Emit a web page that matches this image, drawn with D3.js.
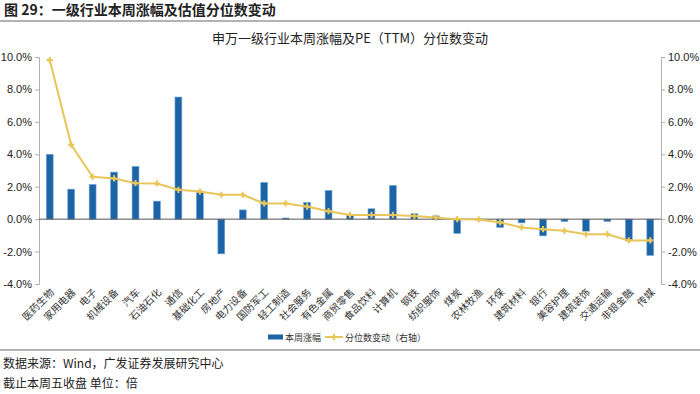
<!DOCTYPE html>
<html>
<head>
<meta charset="utf-8">
<script src="https://cdn.jsdelivr.net/npm/d3@7"></script>
<style>
  body { margin: 0; background: #fff; }
  text { font-family: "Liberation Sans", Arial, "Noto Sans CJK SC", sans-serif; }
  .cn { font-family: "Noto Sans CJK SC", sans-serif; }
</style>
</head>
<body>
<div class="canvas"></div>
<script>
const industries = ['医药生物','家用电器','电子','机械设备','汽车','石油石化','通信','基础化工','房地产','电力设备',
  '国防军工','轻工制造','社会服务','有色金属','商贸零售','食品饮料','计算机','钢铁','纺织服饰','煤炭',
  '农林牧渔','环保','建筑材料','银行','美容护理','建筑装饰','交通运输','非银金融','传媒'];
// 本周涨幅 (%)
const weekChange = [4.0, 1.85, 2.14, 2.9, 3.25, 1.11, 7.53, 1.73, -2.14, 0.57,
  2.26, 0.07, 1.03, 1.77, 0.24, 0.64, 2.08, 0.33, 0.2, -0.88,
  -0.05, -0.51, -0.23, -1.03, -0.14, -0.74, -0.14, -1.34, -2.24];
// 分位数变动 (%, 右轴)
const pctChange = [9.81, 4.59, 2.61, 2.51, 2.22, 2.2, 1.81, 1.7, 1.5, 1.5,
  0.97, 0.97, 0.78, 0.49, 0.26, 0.26, 0.26, 0.19, 0.1, 0.0,
  -0.02, -0.2, -0.51, -0.62, -0.72, -0.93, -0.93, -1.31, -1.31];
const tickVals = [-4, -2, 0, 2, 4, 6, 8, 10];

const W = 700, H = 394;
const plot = {left: 39, right: 661, top: 57, bottom: 284};

const svg = d3.select('.canvas')
  .append('svg')
  .attr('width', W)
  .attr('height', H);

// header
svg.append('text')
  .attr('class', 'cn')
  .attr('x', 4).attr('y', 15)
  .attr('font-size', 14).attr('font-weight', 'bold')
  .attr('fill', '#222')
  .text('图 29：一级行业本周涨幅及估值分位数变动');
svg.append('line')
  .attr('x1', 0).attr('x2', W).attr('y1', 21).attr('y2', 21)
  .attr('stroke', '#9a9a9a').attr('stroke-width', 1.5);

svg.append('text')
  .attr('class', 'cn')
  .attr('x', 350).attr('y', 43)
  .attr('text-anchor', 'middle')
  .attr('font-size', 13)
  .attr('fill', '#222')
  .text('申万一级行业本周涨幅及PE（TTM）分位数变动');

const x = d3.scaleBand()
  .domain(industries)
  .range([plot.left, plot.right])
  .paddingInner(0.68).paddingOuter(0.34);

const y = d3.scaleLinear().domain([-4, 10]).range([plot.bottom, plot.top]);
const y2 = d3.scaleLinear().domain([-4, 10]).range([plot.bottom, plot.top]);

const fmt = d => d.toFixed(1) + '%';

const yAxisL = svg.append('g')
  .attr('transform', `translate(${plot.left},0)`)
  .call(d3.axisLeft(y).tickValues(tickVals).tickFormat(fmt).tickSizeOuter(0).tickSize(4));
const yAxisR = svg.append('g')
  .attr('transform', `translate(${plot.right},0)`)
  .call(d3.axisRight(y2).tickValues(tickVals).tickFormat(fmt).tickSizeOuter(0).tickSize(4));

[yAxisL, yAxisR].forEach(g => {
  g.select('.domain').attr('stroke', '#b0b0b0');
  g.selectAll('.tick line').attr('stroke', '#b0b0b0');
  g.selectAll('.tick text').attr('font-size', 11).attr('fill', '#222')
    .attr('font-family', '"Liberation Sans", Arial, sans-serif');
});

// bars
svg.append('g').selectAll('rect')
  .data(weekChange)
  .enter()
  .append('rect')
    .attr('x', (d, i) => x(industries[i]))
    .attr('width', x.bandwidth())
    .attr('y', d => y(Math.max(0, d)))
    .attr('height', d => Math.abs(y(d) - y(0)))
    .attr('fill', '#1d64a6')
    .attr('stroke', '#6fa4d6')
    .attr('stroke-width', 0.6);

// zero line
svg.append('line')
  .attr('x1', plot.left).attr('x2', plot.right)
  .attr('y1', y(0)).attr('y2', y(0))
  .attr('stroke', '#555').attr('stroke-width', 1);

// line series
const cx = i => x(industries[i]) + x.bandwidth() / 2;
const line = d3.line()
  .x((d, i) => cx(i))
  .y(d => y2(d));

svg.append('path')
  .datum(pctChange)
  .attr('d', line)
  .attr('fill', 'none')
  .attr('stroke', '#e8c65a')
  .attr('stroke-width', 2);

const marker = d3.symbol().type(d3.symbolCross).size(22);
svg.append('g').selectAll('path')
  .data(pctChange)
  .enter()
  .append('path')
    .attr('d', marker)
    .attr('transform', (d, i) => `translate(${cx(i)},${y2(d)})`)
    .attr('fill', '#e8c65a');

// x labels
svg.append('g').selectAll('text')
  .data(industries)
  .enter()
  .append('text')
    .attr('class', 'cn')
    .attr('text-anchor', 'end')
    .attr('font-size', 10)
    .attr('fill', '#333')
    .attr('transform', d => `translate(${x(d) + x.bandwidth() / 2 + 5},${plot.bottom + 9}) rotate(-45)`)
    .text(d => d);

// legend
const lg = svg.append('g').attr('transform', 'translate(268,337)');
lg.append('rect').attr('x', 0).attr('y', -2.5).attr('width', 15).attr('height', 5).attr('fill', '#1d64a6');
lg.append('text').attr('class', 'cn').attr('x', 17).attr('y', 3.5).attr('font-size', 9).attr('fill', '#333').text('本周涨幅');

const lg2 = svg.append('g').attr('transform', 'translate(325,337)');
lg2.append('line').attr('x1', 0).attr('x2', 18).attr('y1', 0).attr('y2', 0)
  .attr('stroke', '#e8c65a').attr('stroke-width', 2);
lg2.append('path').attr('d', marker).attr('transform', 'translate(9,0)').attr('fill', '#e8c65a');
lg2.append('text').attr('class', 'cn').attr('x', 20).attr('y', 3.5).attr('font-size', 9).attr('fill', '#333').text('分位数变动（右轴）');

// footer
svg.append('line')
  .attr('x1', 0).attr('x2', W).attr('y1', 350).attr('y2', 350)
  .attr('stroke', '#9a9a9a').attr('stroke-width', 1.5);
svg.append('text').attr('class', 'cn').attr('x', 3).attr('y', 368)
  .attr('font-size', 12).attr('fill', '#222').text('数据来源：Wind，广发证券发展研究中心');
svg.append('text').attr('class', 'cn').attr('x', 3).attr('y', 388)
  .attr('font-size', 12).attr('fill', '#222').text('截止本周五收盘 单位：倍');
</script>
</body>
</html>
